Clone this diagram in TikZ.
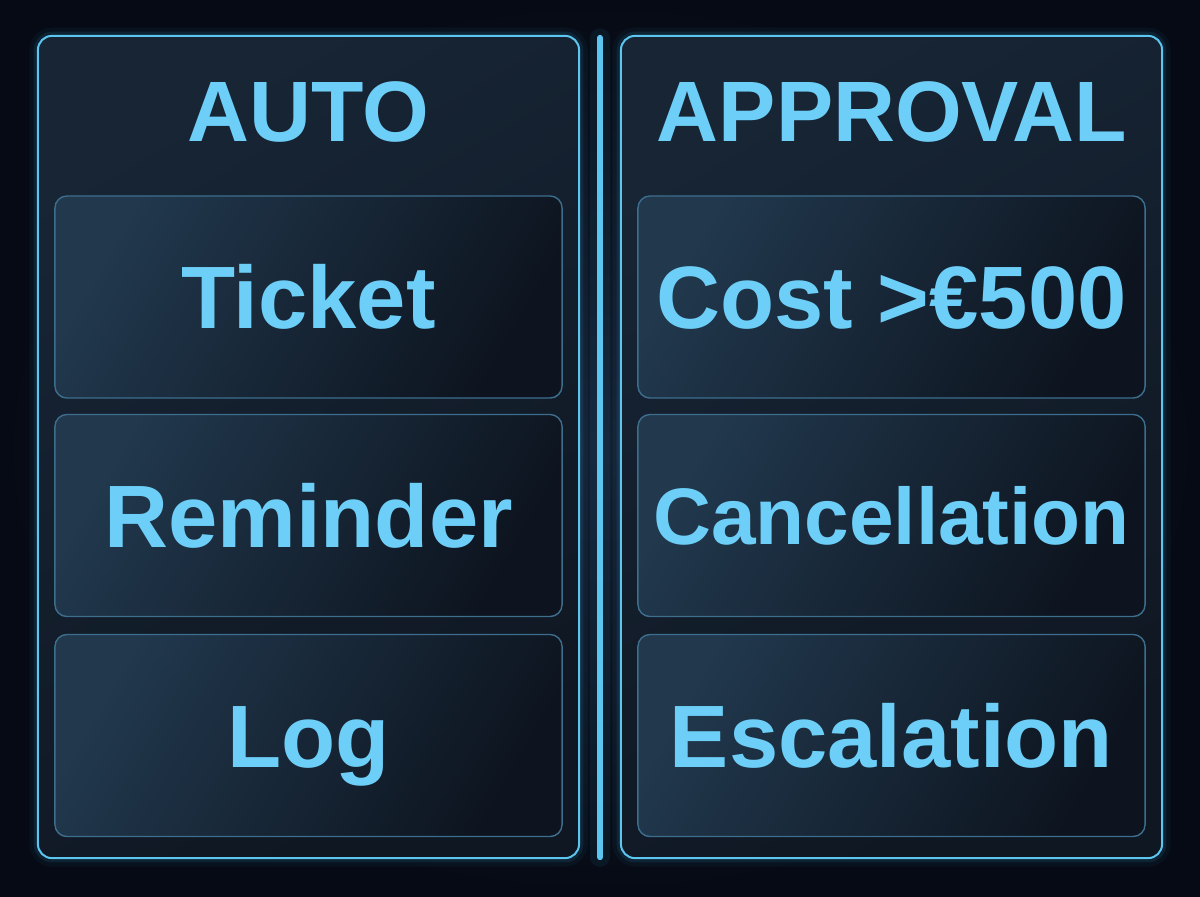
\documentclass[tikz,border=0pt]{standalone}
\usepackage{fontspec}
\newfontfamily\labelfont{Liberation Sans}
\usetikzlibrary{positioning}

\definecolor{bgin}{HTML}{132033}
\definecolor{bgout}{HTML}{060A14}
\definecolor{edge}{HTML}{5CC6F0}
\definecolor{glow}{HTML}{3FB2EA}
\definecolor{paneltop}{HTML}{172535}
\definecolor{panelbot}{HTML}{0F1722}
\definecolor{celltop}{HTML}{21384D}
\definecolor{cellbot}{HTML}{0D141F}
\definecolor{celledge}{HTML}{3D6E8E}
\definecolor{ink}{HTML}{6DCFF8}

\begin{document}
\begin{tikzpicture}[x=0.025cm, y=-0.025cm,
  panel/.style={rectangle, rounded corners=0.35cm, draw=edge, line width=1.4pt,
    top color=paneltop, bottom color=panelbot, shading angle=30,
    minimum width=13.525cm, minimum height=20.55cm, inner sep=0pt,
    preaction={draw=glow, line width=12pt, opacity=0.05, rounded corners=0.35cm},
    preaction={draw=glow, line width=6pt, opacity=0.1, rounded corners=0.35cm}},
  cell/.style={rectangle, rounded corners=0.3cm, draw=celledge, line width=1pt,
    top color=celltop, bottom color=cellbot, shading angle=60,
    minimum width=12.675cm, minimum height=5.05cm, inner sep=0pt,
    text=ink, font=\labelfont\bfseries\fontsize{63}{70}\selectfont,
    text height=45pt, text depth=0pt},
  midrow/.style={font=\labelfont\bfseries\fontsize{57}{64}\selectfont, text height=41pt},
  head/.style={inner sep=0pt, text=ink, font=\labelfont\bfseries\fontsize{61}{68}\selectfont,
    text height=43.7pt, text depth=0pt},
  divider/.style={draw=edge, line width=4.5pt, line cap=round}
]
% backdrop
\fill[inner color=bgin, outer color=bgout] (0,0) rectangle (1200,896);
\useasboundingbox (0,0) rectangle (1200,896);

% panels
\node[panel] (autopanel) at (308.5,447) {};
\node[panel] (approvalpanel) at (891.5,447) {};

% divider
\coordinate (divtop) at (600,38);
\coordinate (divbot) at (600,857);
\draw[glow, line width=14pt, opacity=0.07, line cap=round] (divtop) -- (divbot);
\draw[divider] (divtop) -- (divbot);

% headers
\node[head] (autohead) at (308,111) {AUTO};
\node[head] (approvalhead) at (892,111) {APPROVAL};

% left column
\node[cell] (ticket) at (308.5,297) {Ticket};
\node[cell] (reminder) at (308.5,515.5) {Reminder};
\node[cell] (log) at (308.5,735.5) {Log};

% right column
\node[cell] (cost) at (891.5,297) {Cost >€500};
\node[cell, midrow] (cancellation) at (891.5,515.5) {Cancellation};
\node[cell] (escalation) at (891.5,735.5) {Escalation};
\end{tikzpicture}
\end{document}
